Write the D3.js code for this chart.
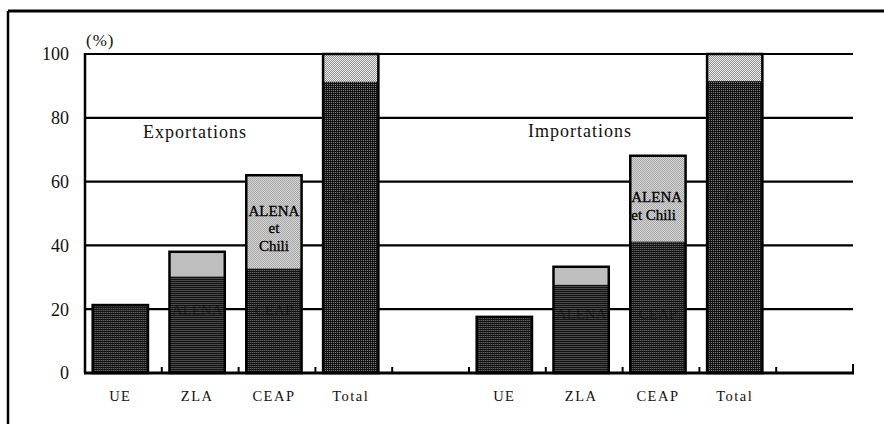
<!DOCTYPE html>
<html>
<head>
<meta charset="utf-8">
<script src="https://cdn.jsdelivr.net/npm/d3@7"></script>
<style>
  body { margin: 0; background: #fff; }
  svg { display: block; }
  text { font-family: "Liberation Serif", "DejaVu Serif", serif; fill: #111; }
</style>
</head>
<body>
<div id="chart"></div>
<script>
'use strict';

// categories per group
const categories = ["UE", "ZLA", "CEAP", "Total"];
const groups = ["Exportations", "Importations"];

// lower (dark) segment and total height, in %
const exportBase  = [21.3, 30.3, 32.8, 91.3];
const exportTotal = [21.3, 38.0, 62.0, 100];
const importBase  = [17.6, 27.7, 41.2, 91.5];
const importTotal = [17.6, 33.3, 68.1, 100];

// labels written inside the segments
const baseLabels = ["", "ALENA", "CEAP", "G3"];
const topLabels  = ["", "", "ALENA et Chili", ""];

const yTicks = [0, 20, 40, 60, 80, 100];

const width = 884, height = 424;
const margin = {top: 54, right: 31, bottom: 51, left: 85};

const svg = d3.select("#chart").append("svg")
    .attr("width", width).attr("height", height);

// stippled fills
const defs = svg.append("defs");
const dark = defs.append("pattern").attr("id", "dark")
    .attr("patternUnits", "userSpaceOnUse").attr("width", 2).attr("height", 2);
dark.append("rect").attr("width", 2).attr("height", 2).attr("fill", "#121212");
dark.append("rect").attr("width", 1).attr("height", 1).attr("fill", "#808080");
const light = defs.append("pattern").attr("id", "light")
    .attr("patternUnits", "userSpaceOnUse").attr("width", 2).attr("height", 2);
light.append("rect").attr("width", 2).attr("height", 2).attr("fill", "#f2f2f2");
light.append("rect").attr("width", 1).attr("height", 1).attr("fill", "#8a8a8a");
light.append("rect").attr("x", 1).attr("y", 1).attr("width", 1).attr("height", 1).attr("fill", "#8a8a8a");

// frame (top and left only)
svg.append("line").attr("x1", 8).attr("x2", width).attr("y1", 11).attr("y2", 11)
    .attr("stroke", "#000").attr("stroke-width", 3);
svg.append("line").attr("x1", 8).attr("x2", 8).attr("y1", 11).attr("y2", height)
    .attr("stroke", "#000").attr("stroke-width", 2.5);

// 10 slots: 4 exports, 1 gap, 4 imports, 1 gap
const slots = d3.range(10);
const x = d3.scaleBand().domain(slots).range([margin.left, width - margin.right]);
const y = d3.scaleLinear().domain([0, 100]).range([height - margin.bottom, margin.top]);

// gridlines
svg.append("g").selectAll("line").data(yTicks.slice(1)).join("line")
    .attr("x1", margin.left).attr("x2", width - margin.right)
    .attr("y1", d => y(d)).attr("y2", d => y(d))
    .attr("stroke", "#000").attr("stroke-width", 2.2);

// y axis labels
svg.append("g").selectAll("text").data(yTicks).join("text")
    .attr("x", 69).attr("y", d => y(d)).attr("dy", "0.35em")
    .attr("text-anchor", "end").style("font-size", "18px")
    .text(d => d);
svg.append("text").attr("x", 86).attr("y", 46)
    .style("font-size", "17px").style("letter-spacing", "1px").text("(%)");

// bar data
const bars = [];
categories.forEach((c, i) => {
  bars.push({slot: i, cat: c, base: exportBase[i], total: exportTotal[i], bl: baseLabels[i], tl: topLabels[i], grp: 0});
  bars.push({slot: i + 5, cat: c, base: importBase[i], total: importTotal[i], bl: baseLabels[i], tl: topLabels[i], grp: 1});
});

const bw = x.step() * 0.72, bOff = x.step() * 0.1;

const bar = svg.append("g").selectAll("g").data(bars).join("g")
    .attr("transform", d => `translate(${x(d.slot) + bOff},0)`);

bar.each(function(d, i) {
  const g = d3.select(this);
  const cid = "clip" + i;
  g.append("clipPath").attr("id", cid).append("rect")
      .attr("x", 0).attr("y", y(d.total)).attr("width", bw).attr("height", y(0) - y(d.total));
  // light segment
  if (d.total > d.base) {
    g.append("rect").attr("x", 0).attr("y", y(d.total)).attr("width", bw)
        .attr("height", y(d.base) - y(d.total)).attr("fill", "url(#light)");
  }
  g.append("rect").attr("x", 0).attr("y", y(d.base)).attr("width", bw)
      .attr("height", y(0) - y(d.base)).attr("fill", "url(#dark)");
  g.append("rect").attr("x", 0).attr("y", y(d.total)).attr("width", bw)
      .attr("height", y(0) - y(d.total)).attr("fill", "none")
      .attr("stroke", "#000").attr("stroke-width", 2.5);

  const lab = g.append("g").attr("clip-path", `url(#${cid})`);
  // dark-segment labels, barely visible in the original
  if (d.bl) {
    lab.append("text").attr("x", bw / 2)
        .attr("y", d.bl === "G3" ? y(55) : y(d.grp ? 18.7 : 19.7)).attr("dy", "0.35em")
        .attr("text-anchor", "middle").style("font-size", "15px")
        .style("fill", "#000").style("opacity", 0.4).text(d.bl);
  }
  if (d.tl) {
    const words = d.tl.split(" ");
    const lines = d.grp === 0 ? [words[0], words[1], words[2]] : [words[0], words[1] + "  " + words[2]];
    const y0 = d.grp === 0 ? y(51) : y(55.2);
    lines.forEach((t, k) => {
      lab.append("text").attr("x", d.grp === 0 ? bw / 2 : 1)
          .attr("y", y0 + k * 17.5).attr("dy", "0.35em")
          .attr("text-anchor", d.grp === 0 ? "middle" : "start")
          .style("font-size", "15px").style("fill", "#000")
          .style("stroke", "#000").style("stroke-width", 0.3)
          .text(t);
    });
  }
});

// left axis and baseline
svg.append("line").attr("x1", margin.left).attr("x2", margin.left)
    .attr("y1", y(100) - 1).attr("y2", y(0))
    .attr("stroke", "#000").attr("stroke-width", 2.5);
svg.append("line").attr("x1", margin.left - 1).attr("x2", width - margin.right + 1)
    .attr("y1", y(0)).attr("y2", y(0))
    .attr("stroke", "#000").attr("stroke-width", 3);

// small ticks between slots
svg.append("g").selectAll("line").data(slots.slice(1).concat([10])).join("line")
    .attr("x1", d => margin.left + d * x.step()).attr("x2", d => margin.left + d * x.step())
    .attr("y1", y(0)).attr("y2", d => y(0) - (d === 10 ? 9 : 6))
    .attr("stroke", "#000").attr("stroke-width", 2);

// category labels
svg.append("g").selectAll("text").data(bars).join("text")
    .attr("x", d => x(d.slot) + bOff + bw / 2).attr("y", 401)
    .attr("text-anchor", "middle").style("font-size", "14.5px").style("letter-spacing", "1.5px")
    .text(d => d.cat);

// group titles
svg.append("text").attr("x", 195).attr("y", 138).attr("text-anchor", "middle")
    .style("font-size", "18px").style("letter-spacing", "1px").text(groups[0]);
svg.append("text").attr("x", 580).attr("y", 137).attr("text-anchor", "middle")
    .style("font-size", "18px").style("letter-spacing", "1px").text(groups[1]);
</script>
</body>
</html>
